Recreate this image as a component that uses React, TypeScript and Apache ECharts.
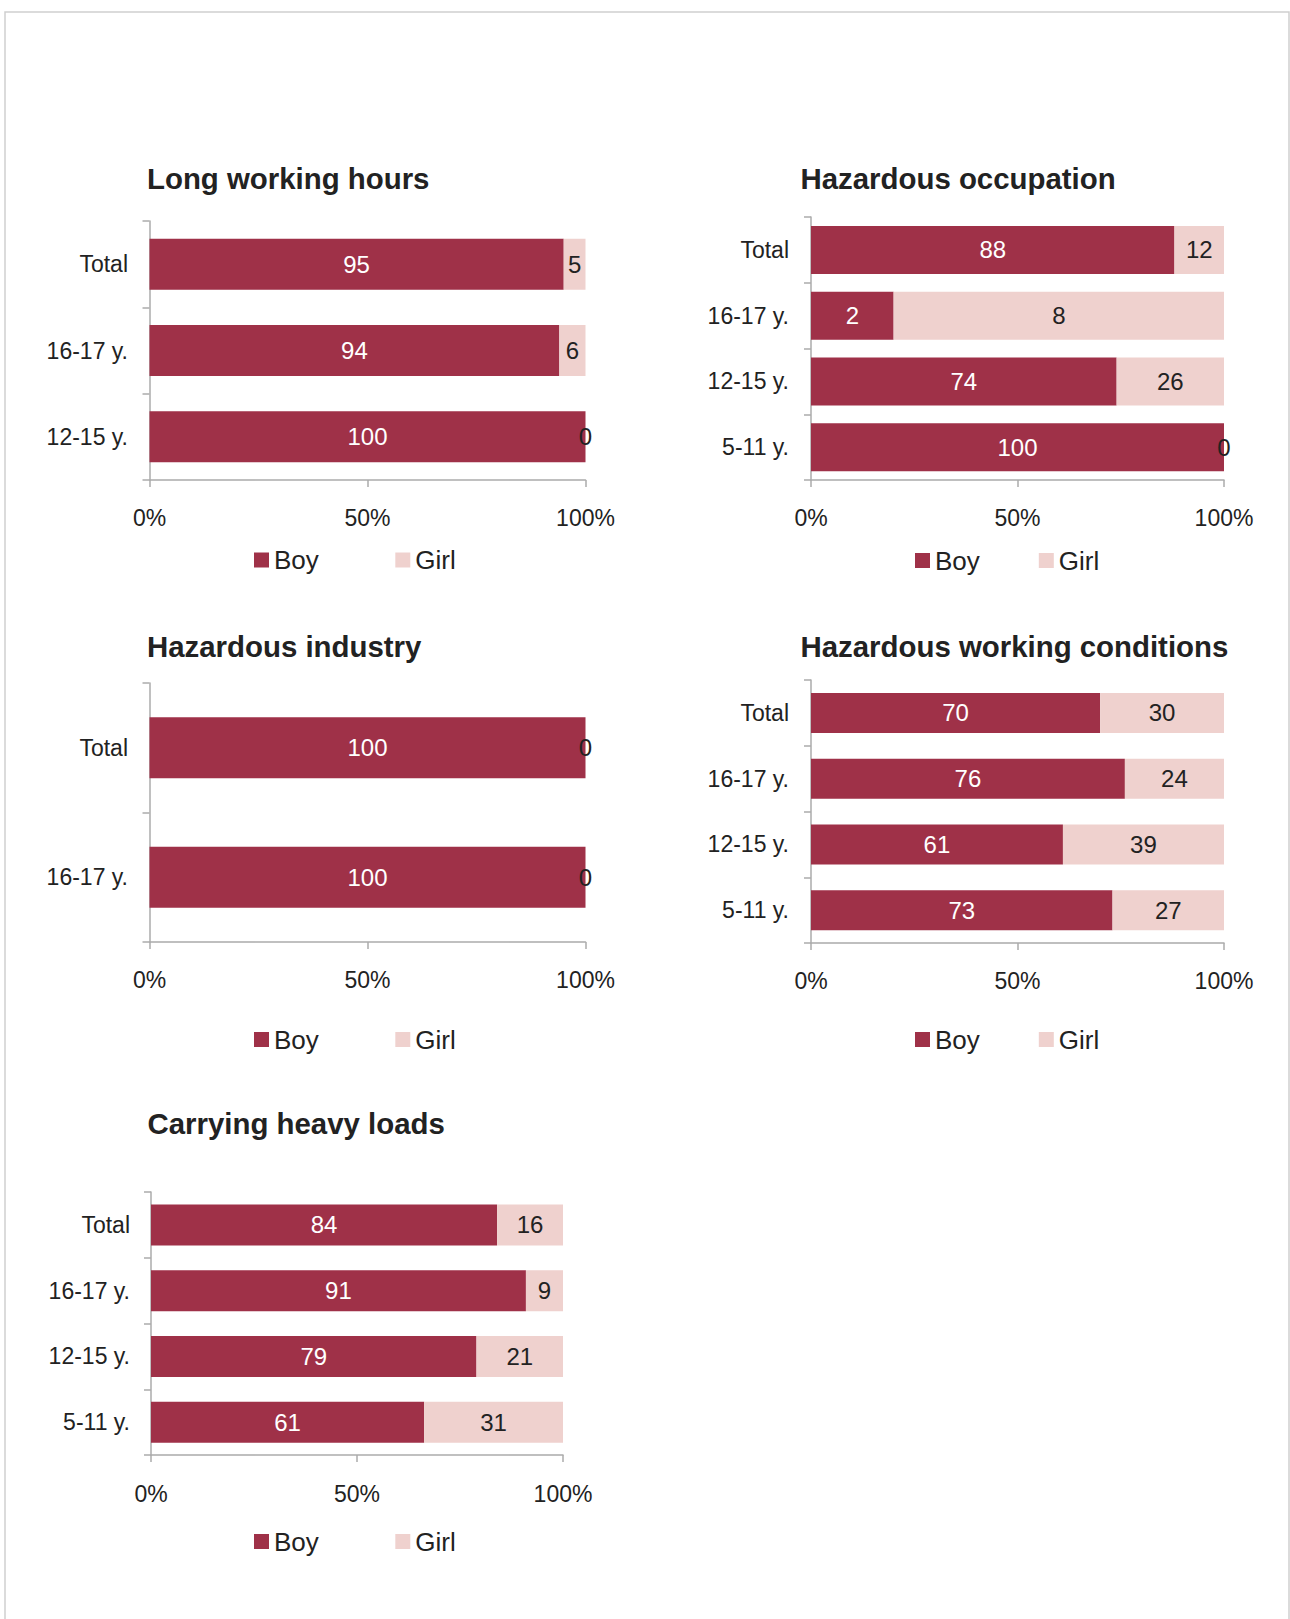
import React, { useEffect, useRef } from "react";
import * as echarts from "echarts";

// ---------- data ----------
const titles = [
  "Long working hours",
  "Hazardous occupation",
  "Hazardous industry",
  "Hazardous working conditions",
  "Carrying heavy loads",
];

const catsLongHours = ["Total", "16-17 y.", "12-15 y."];
const boyLongHours = [95, 94, 100];
const girlLongHours = [5, 6, 0];

const catsOccupation = ["Total", "16-17 y.", "12-15 y.", "5-11 y."];
const boyOccupation = [88, 2, 74, 100];
const girlOccupation = [12, 8, 26, 0];

const catsIndustry = ["Total", "16-17 y."];
const boyIndustry = [100, 100];
const girlIndustry = [0, 0];

const catsConditions = ["Total", "16-17 y.", "12-15 y.", "5-11 y."];
const boyConditions = [70, 76, 61, 73];
const girlConditions = [30, 24, 39, 27];

const catsLoads = ["Total", "16-17 y.", "12-15 y.", "5-11 y."];
const boyLoads = [84, 91, 79, 61];
const girlLoads = [16, 9, 21, 31];

const xTicks = [0, 50, 100];
const seriesNames = ["Boy", "Girl"];

// ---------- layout / style ----------
const BOY = "#9F3148";
const GIRL = "#EFD1CE";
const AXIS = "#ABABAB";
const TEXT = "#222222";
const FONT = "'Liberation Sans', Arial, sans-serif";

type Panel = {
  cats: string[];
  boy: number[];
  girl: number[];
  grid: { left: number; top: number; width: number; height: number };
  title: { left: number; top: number };
  legend: { left: number; top: number; gap: number };
  barWidth: number;
  catMargin: number;
  xMargin: number;
};

const panels: Panel[] = [
  {
    cats: catsLongHours, boy: boyLongHours, girl: girlLongHours,
    grid: { left: 149.5, top: 221, width: 436, height: 259 },
    title: { left: 147, top: 164 },
    legend: { left: 254, top: 547, gap: 76.5 },
    barWidth: 51, catMargin: 21.5, xMargin: 26,
  },
  {
    cats: catsOccupation, boy: boyOccupation, girl: girlOccupation,
    grid: { left: 811, top: 217, width: 413, height: 263 },
    title: { left: 800.5, top: 164 },
    legend: { left: 915, top: 547.5, gap: 59 },
    barWidth: 48, catMargin: 22, xMargin: 26,
  },
  {
    cats: catsIndustry, boy: boyIndustry, girl: girlIndustry,
    grid: { left: 149.5, top: 683, width: 436, height: 259 },
    title: { left: 147, top: 632 },
    legend: { left: 254, top: 1026.5, gap: 76.5 },
    barWidth: 61, catMargin: 21.5, xMargin: 26,
  },
  {
    cats: catsConditions, boy: boyConditions, girl: girlConditions,
    grid: { left: 811, top: 680, width: 413, height: 263 },
    title: { left: 800.5, top: 632 },
    legend: { left: 915, top: 1026.5, gap: 59 },
    barWidth: 40, catMargin: 22, xMargin: 26,
  },
  {
    cats: catsLoads, boy: boyLoads, girl: girlLoads,
    grid: { left: 151, top: 1192, width: 412, height: 263 },
    title: { left: 147.5, top: 1109 },
    legend: { left: 254, top: 1528.5, gap: 76.5 },
    barWidth: 41, catMargin: 21, xMargin: 27,
  },
];

function buildOption() {
  const grid: any[] = [];
  const xAxis: any[] = [];
  const yAxis: any[] = [];
  const series: any[] = [];
  const title: any[] = [];
  const legend: any[] = [];

  panels.forEach((p, i) => {
    grid.push({ ...p.grid, containLabel: false });
    title.push({
      text: titles[i],
      left: p.title.left,
      top: p.title.top,
      padding: 0,
      textStyle: { fontSize: 29.4, fontWeight: "bold", color: TEXT, fontFamily: FONT },
    });
    legend.push({
      data: seriesNames,
      left: p.legend.left,
      top: p.legend.top,
      padding: 0,
      itemGap: p.legend.gap,
      itemWidth: 15,
      itemHeight: 15,
      icon: "rect",
      selectedMode: false,
      textStyle: { fontSize: 26, color: TEXT, fontFamily: FONT },
    });
    xAxis.push({
      type: "value",
      gridIndex: i,
      min: xTicks[0],
      max: xTicks[xTicks.length - 1],
      interval: xTicks[1] - xTicks[0],
      axisLine: { show: true, lineStyle: { color: AXIS, width: 1.5 } },
      axisTick: { show: true, inside: false, length: 7, lineStyle: { color: AXIS, width: 1.5 } },
      splitLine: { show: false },
      axisLabel: {
        formatter: "{value}%",
        fontSize: 23,
        color: TEXT,
        fontFamily: FONT,
        margin: p.xMargin,
      },
    });
    yAxis.push({
      type: "category",
      gridIndex: i,
      inverse: true,
      data: p.cats,
      axisLine: { show: true, lineStyle: { color: AXIS, width: 1.5 } },
      axisTick: { show: true, inside: false, length: 7, lineStyle: { color: AXIS, width: 1.5 } },
      axisLabel: { fontSize: 23, color: TEXT, fontFamily: FONT, margin: p.catMargin },
    });
    const totals = p.boy.map((b, k) => b + p.girl[k]);
    const boyShare = p.boy.map((b, k) => (b / totals[k]) * 100);
    const girlShare = p.girl.map((g, k) => (g / totals[k]) * 100);
    series.push({
      name: seriesNames[0],
      type: "bar",
      stack: "s" + i,
      xAxisIndex: i,
      yAxisIndex: i,
      barWidth: p.barWidth,
      data: boyShare,
      itemStyle: { color: BOY },
      label: {
        show: true,
        position: "inside",
        color: "#FFFFFF",
        fontSize: 24,
        fontFamily: FONT,
        formatter: (pr: any) => String(p.boy[pr.dataIndex]),
      },
    });
    series.push({
      name: seriesNames[1],
      type: "bar",
      stack: "s" + i,
      xAxisIndex: i,
      yAxisIndex: i,
      barWidth: p.barWidth,
      data: girlShare,
      itemStyle: { color: GIRL },
      label: {
        show: true,
        position: "inside",
        color: TEXT,
        fontSize: 24,
        fontFamily: FONT,
        formatter: (pr: any) => String(p.girl[pr.dataIndex]),
      },
    });
  });

  return {
    animation: false,
    backgroundColor: "#FFFFFF",
    textStyle: { fontFamily: FONT },
    title,
    legend,
    grid,
    xAxis,
    yAxis,
    series,
    graphic: [
      {
        type: "rect",
        silent: true,
        z: -10,
        shape: { x: 5, y: 12, width: 1284, height: 1640 },
        style: { fill: "none", stroke: "#CFCFCF", lineWidth: 1.5 },
      },
    ],
  };
}

export default function App() {
  const ref = useRef<HTMLDivElement>(null);
  useEffect(() => {
    if (!ref.current) return;
    const chart = echarts.init(ref.current, undefined, { renderer: "svg" });
    chart.setOption(buildOption() as any);
    return () => chart.dispose();
  }, []);
  return (
    <div
      ref={ref}
      style={{ position: "absolute", left: 0, top: 0, width: 1290, height: 1619, background: "#fff" }}
    />
  );
}
